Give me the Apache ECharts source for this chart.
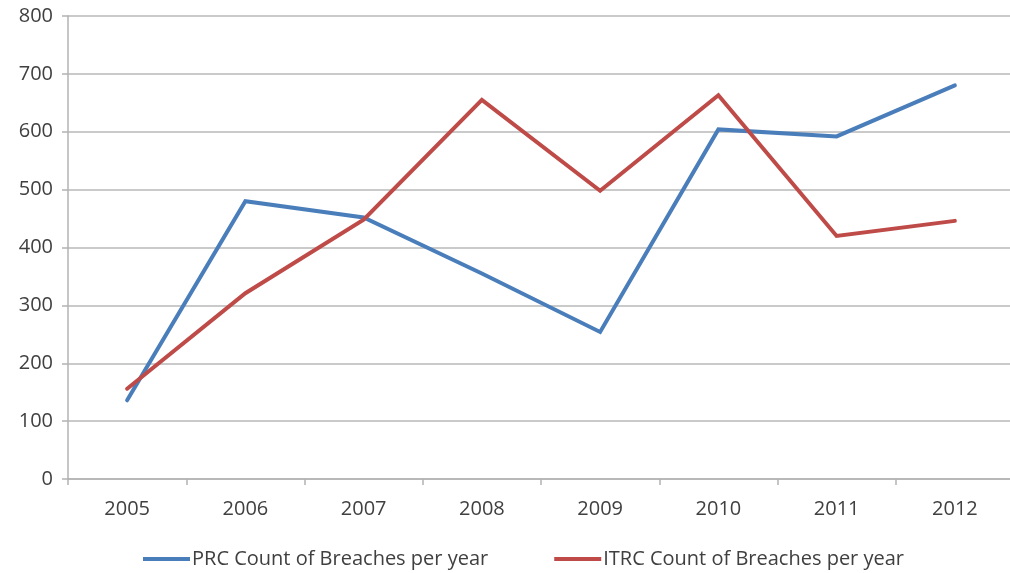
<!DOCTYPE html>
<html>
<head>
<meta charset="utf-8">
<script src="https://cdn.jsdelivr.net/npm/echarts@6/dist/echarts.min.js"></script>
<style>html,body{margin:0;padding:0;background:#fff}#c{width:1010px;height:573px}</style>
</head>
<body>
<div id="c"></div>
<script>
var years = ['2005','2006','2007','2008','2009','2010','2011','2012'];
var prcValues = [136, 480, 452, 355, 254, 604, 592, 680];
var itrcValues = [156, 321, 448, 655, 498, 663, 420, 446];
var seriesNames = ['PRC Count of Breaches per year', 'ITRC Count of Breaches per year'];

var chart = echarts.init(document.getElementById('c'), null, {renderer: 'canvas'});
var font = 'Open Sans';
chart.setOption({
  animation: false,
  backgroundColor: '#fff',
  grid: {left: 68, top: 16, height: 463, width: 946, containLabel: false, outerBoundsMode: 'none'},
  legend: {
    top: 544, left: 138,
    itemWidth: 47, itemHeight: 4, itemGap: 66,
    icon: 'rect',
    textStyle: {fontFamily: font, fontSize: 20, color: '#404040', padding: [0,0,0,-3]},
    data: seriesNames
  },
  xAxis: {
    type: 'category',
    data: years,
    boundaryGap: true,
    axisLine: {lineStyle: {color: '#b3b3b3', width: 1.5}},
    axisTick: {show: true, length: 6, lineStyle: {color: '#b3b3b3', width: 1.5}},
    axisLabel: {fontFamily: font, fontSize: 20, color: '#404040', margin: 20}
  },
  yAxis: {
    type: 'value',
    min: 0, max: 800, interval: 100,
    axisLine: {show: true, lineStyle: {color: '#b3b3b3', width: 1.5}},
    axisTick: {show: true, length: 6, lineStyle: {color: '#b3b3b3', width: 1.5}},
    axisLabel: {fontFamily: font, fontSize: 20, color: '#404040', margin: 15},
    splitLine: {lineStyle: {color: '#b8b8b8', width: 1.5}}
  },
  series: [
    {name: seriesNames[0], type: 'line', data: prcValues, showSymbol: false, symbol: 'none',
     lineStyle: {color: '#4a7ebb', width: 4, cap: 'round', join: 'miter'}, itemStyle: {color: '#4a7ebb'}},
    {name: seriesNames[1], type: 'line', data: itrcValues, showSymbol: false, symbol: 'none',
     lineStyle: {color: '#be4b48', width: 4, cap: 'round', join: 'miter'}, itemStyle: {color: '#be4b48'}}
  ]
});
</script>
</body>
</html>
